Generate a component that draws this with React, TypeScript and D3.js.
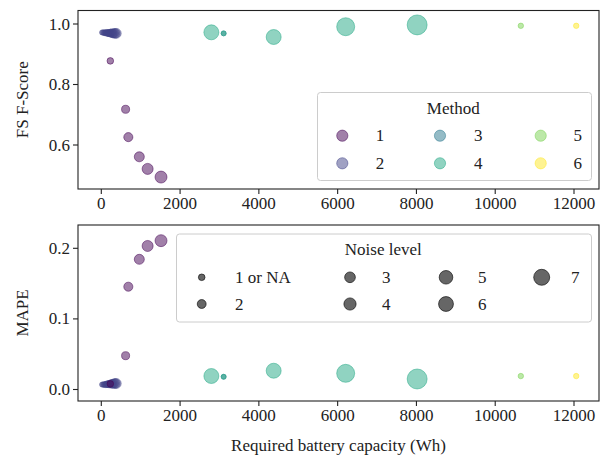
import React from "react";
import * as d3 from "d3";

// ---- data ----
const capacity = [20, 50, 80, 110, 140, 170, 200, 230, 260, 290, 320, 350, 380, 229, 617, 686, 965, 1176, 1516, 2794, 3106, 3106, 4376, 6204, 8018, 10650, 12056];
const method = [2, 2, 2, 2, 2, 2, 2, 2, 2, 2, 2, 2, 2, 1, 1, 1, 1, 1, 1, 4, 3, 4, 4, 4, 4, 5, 6];
const fscore = [0.972, 0.972, 0.971, 0.971, 0.971, 0.970, 0.970, 0.970, 0.970, 0.969, 0.969, 0.969, 0.969, 0.878, 0.718, 0.626, 0.561, 0.521, 0.494, 0.9725, 0.969, 0.969, 0.957, 0.991, 0.997, 0.994, 0.994];
const mape = [0.007, 0.007, 0.007, 0.007, 0.0075, 0.0075, 0.0075, 0.008, 0.008, 0.008, 0.0085, 0.0085, 0.0085, 0.008, 0.0479, 0.1456, 0.1844, 0.2033, 0.2108, 0.0191, 0.018, 0.018, 0.0266, 0.0229, 0.0149, 0.019, 0.019];
const noise = [0.5, 0.6, 0.7, 0.8, 1.0, 1.1, 1.3, 1.5, 1.7, 1.9, 2.1, 2.3, 2.5, 1.0, 1.6, 2.1, 2.6, 3.2, 3.8, 6.1, 0.47, 0.47, 6.1, 8.9, 11, 0.6, 0.6];

const methodLabels = ["1", "2", "3", "4", "5", "6"];
const noiseLabels = ["1 or NA", "2", "3", "4", "5", "6", "7"];
const xTicks = [0, 2000, 4000, 6000, 8000, 10000, 12000];
const fTicks = [0.6, 0.8, 1.0];
const mTicks = [0.0, 0.1, 0.2];

const FONT = "Liberation Serif";
const FS = 17;
const T: any = { fontFamily: FONT, fontSize: FS, fill: "#222" };

const viridis6 = ["#440154", "#414487", "#2a788e", "#22a884", "#7ad151", "#fde725"];

const L = 78, R = 599;
const top1 = 10.5, bot1 = 189;
const top2 = 225, bot2 = 401;

const x = d3.scaleLinear().domain([0, 12000]).range([101.3, 574]);
const y1 = d3.scaleLinear().domain([0.6, 1.0]).range([145, 24]);
const y2 = d3.scaleLinear().domain([0.0, 0.2]).range([389.5, 248.3]);
// noise level -> marker area (px^2), linear in area
const area = d3.scaleLinear().domain([1, 7]).range([10.9, 64]);
const rad = (v: number) => Math.sqrt(Math.max(area(v), 4));

const idx = capacity.map((_, i) => i);

function Txt(props: any) {
  return <text fontFamily={FONT} fontSize={FS} fill="#222" style={T} {...props} />;
}

function Panel({ y, yTicks, top, bottom, values, fmt }: any) {
  return (
    <g>
      {idx.map((i) => {
        const c = viridis6[method[i] - 1];
        return (
          <circle key={i} cx={x(capacity[i])} cy={y(values[i])} r={rad(noise[i])}
            fill={c} fillOpacity={0.5} stroke={c} strokeOpacity={0.5} strokeWidth={1} />
        );
      })}
      <rect x={L} y={top} width={R - L} height={bottom - top} fill="none" stroke="#222" strokeWidth={1.1} />
      {yTicks.map((t: number) => (
        <g key={t}>
          <line x1={L - 5} x2={L} y1={y(t)} y2={y(t)} stroke="#222" strokeWidth={1.1} />
          <Txt x={L - 8} y={y(t)} textAnchor="end" dominantBaseline="central">{fmt(t)}</Txt>
        </g>
      ))}
      {xTicks.map((t) => (
        <g key={t}>
          <line x1={x(t)} x2={x(t)} y1={bottom} y2={bottom + 5} stroke="#222" strokeWidth={1.1} />
          <Txt x={x(t)} y={bottom + 8} textAnchor="middle" dominantBaseline="hanging">{t}</Txt>
        </g>
      ))}
    </g>
  );
}

export default function App() {
  const fmt1 = d3.format(".1f");
  const mRows = [135.7, 163.3];
  const mMarkX = [342.3, 440, 540.7];
  const mLabX = [375.7, 474, 573.4];
  const nRows = [277.3, 304];
  const nMarkX = [201.7, 350, 446, 541.7];
  const nLabX = [235, 382, 478, 571];
  return (
    <svg width={605} height={460} fontFamily={FONT} style={{ position: "absolute", left: 0, top: 0, background: "#fff" }}>
      <style>{`text { font-family: "Liberation Serif", serif; }`}</style>
      <Panel y={y1} yTicks={fTicks} top={top1} bottom={bot1} values={fscore} fmt={fmt1} />
      <Panel y={y2} yTicks={mTicks} top={top2} bottom={bot2} values={mape} fmt={fmt1} />
      <Txt transform={`translate(22,${(top1 + bot1) / 2}) rotate(-90)`} textAnchor="middle" dominantBaseline="central">FS F-Score</Txt>
      <Txt transform={`translate(22,${(top2 + bot2) / 2}) rotate(-90)`} textAnchor="middle" dominantBaseline="central">MAPE</Txt>
      <Txt x={(L + R) / 2} y={445} textAnchor="middle" dominantBaseline="central">Required battery capacity (Wh)</Txt>

      {/* Method legend */}
      <rect x={317.5} y={92.5} width={274} height={88} rx={3} fill="#fff" fillOpacity={0.8} stroke="#cccccc" strokeWidth={1} />
      <Txt x={453.3} y={108.3} textAnchor="middle" dominantBaseline="central">Method</Txt>
      {methodLabels.map((lab, k) => {
        const col = Math.floor(k / 2), row = k % 2;
        const c = viridis6[k];
        return (
          <g key={lab}>
            <circle cx={mMarkX[col]} cy={mRows[row]} r={5.6} fill={c} fillOpacity={0.5} stroke={c} strokeOpacity={0.5} strokeWidth={1} />
            <Txt x={mLabX[col]} y={mRows[row]} dominantBaseline="central">{lab}</Txt>
          </g>
        );
      })}

      {/* Noise legend */}
      <rect x={176.5} y={234} width={415} height={88} rx={3} fill="#fff" fillOpacity={0.8} stroke="#cccccc" strokeWidth={1} />
      <Txt x={383.3} y={249} textAnchor="middle" dominantBaseline="central">Noise level</Txt>
      {noiseLabels.map((lab, k) => {
        const col = Math.floor(k / 2), row = k % 2;
        return (
          <g key={lab}>
            <circle cx={nMarkX[col]} cy={nRows[row]} r={rad(k + 1)} fill="#000" fillOpacity={0.6} stroke="#000" strokeOpacity={0.6} strokeWidth={1} />
            <Txt x={nLabX[col]} y={nRows[row]} dominantBaseline="central">{lab}</Txt>
          </g>
        );
      })}
    </svg>
  );
}
